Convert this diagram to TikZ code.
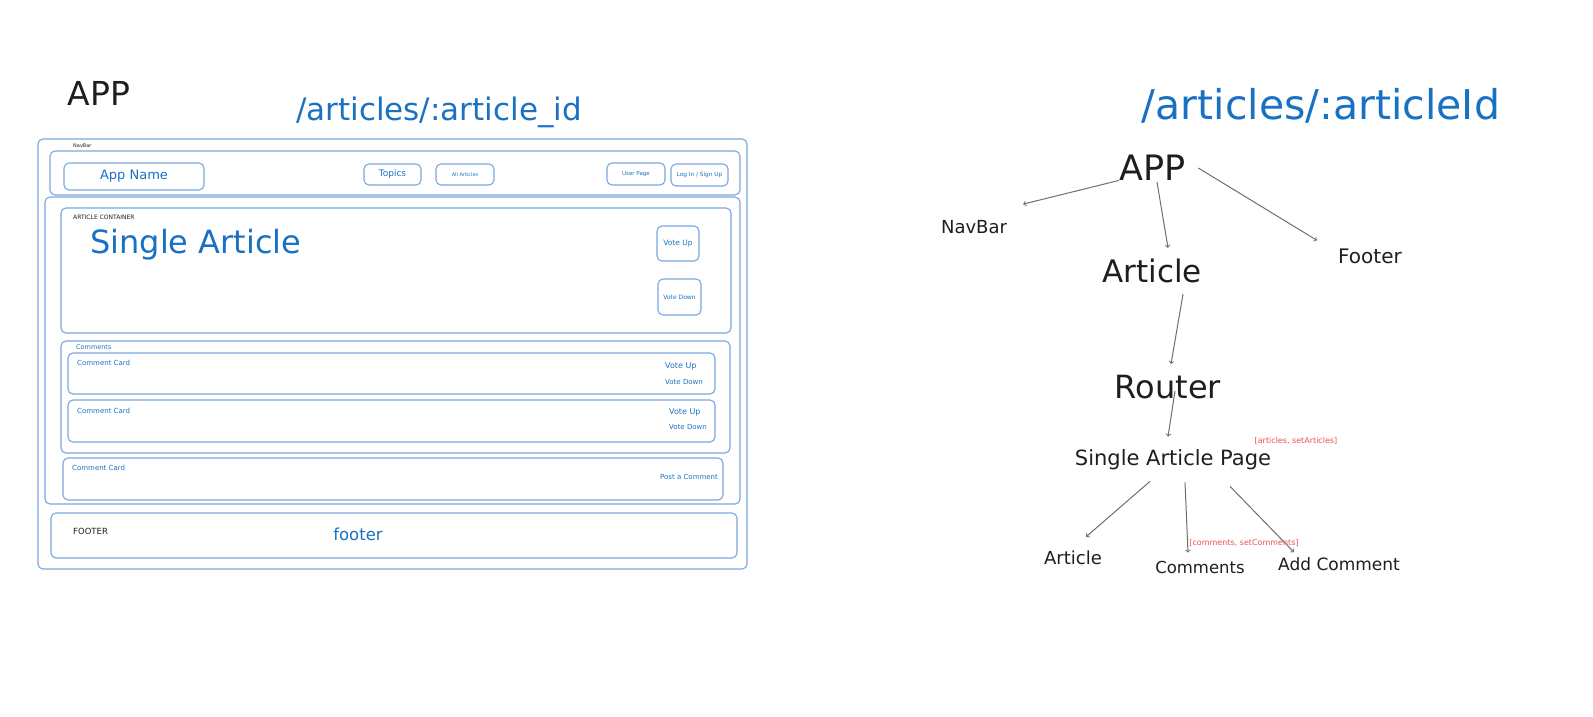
\documentclass[tikz,border=0pt]{standalone}
\usepackage{fontspec}
\setmainfont{DejaVu Sans}
\usetikzlibrary{positioning}
\definecolor{xblue}{RGB}{25,113,194}
\definecolor{wireblue}{RGB}{120,168,222}
\definecolor{xred}{RGB}{235,80,80}
\definecolor{xgray}{RGB}{110,110,110}
\definecolor{xink}{RGB}{30,30,30}
\newcommand{\fs}[1]{\fontsize{#1}{#1}\selectfont}
\tikzset{
  wire/.style={draw=wireblue, line width=1.1pt, rounded corners=5pt},
  btn/.style={wire, text=xblue, inner sep=0pt, font=\fs{6}},
  tag/.style={text=xblue, inner sep=0pt, anchor=west, font=\fs{7}},
  tree/.style={text=xink, inner sep=1pt},
  statelbl/.style={text=xred, inner sep=0pt, font=\fs{8}},
  arr/.style={->, draw=xgray, line width=1pt}
}

\begin{document}
\begin{tikzpicture}[x=1pt,y=-1pt]
    \useasboundingbox (0,0) rectangle (1593,716);

    % wireframe
    \node[tree, font=\fs{33}] (appl) at (99,93) {APP};
    \node[text=xblue, font=\fs{31}] (route) at (439,112) {/articles/:article\_id};
    \draw[wire] (38,139) rectangle (747,569);
    \node[tag, text=xink, font=\fs{5}] (navlbl) at (73,146) {NavBar};
    \draw[wire] (50,151) rectangle (740,195);
    \node[btn, minimum width=140pt, minimum height=27pt, font=\fs{13}] (appname) at (134,176.5) {App Name};
    \node[btn, minimum width=57pt, minimum height=21pt, font=\fs{9}] (topics) at (392.5,174.5) {Topics};
    \node[btn, minimum width=58pt, minimum height=21pt, font=\fs{5}] (allart) at (465,174.5) {All Articles};
    \node[btn, minimum width=58pt, minimum height=22pt, font=\fs{5.5}] (userpg) at (636,174) {User Page};
    \node[btn, minimum width=57pt, minimum height=22pt, font=\fs{5.8}] (login) at (699.5,175) {Log In / Sign Up};

    \draw[wire] (45,197) rectangle (740,504);
    \draw[wire] (61,208) rectangle (731,333);
    \node[tag, text=xink, font=\fs{6}] (artlbl) at (73,217) {ARTICLE CONTAINER};
    \node[tag, anchor=base west, font=\fs{32}] (single) at (90,253) {Single Article};
    \node[btn, minimum width=42pt, minimum height=35pt, font=\fs{7.5}] (vup) at (678,243.5) {Vote Up};
    \node[btn, minimum width=43pt, minimum height=36pt] (vdown) at (679.5,297) {Vote Down};

    \draw[wire] (61,341) rectangle (730,453);
    \node[tag, font=\fs{6.5}] (comlbl) at (76,347) {Comments};
    \draw[wire] (68,353) rectangle (715,394);
    \node[tag] (card1) at (77,363) {Comment Card};
    \node[tag, font=\fs{8}] (up1) at (665,366) {Vote Up};
    \node[tag] (down1) at (665,382) {Vote Down};
    \draw[wire] (68,400) rectangle (715,442);
    \node[tag] (card2) at (77,411) {Comment Card};
    \node[tag, font=\fs{8}] (up2) at (669,412) {Vote Up};
    \node[tag] (down2) at (669,427) {Vote Down};
    \draw[wire] (63,458) rectangle (723,500);
    \node[tag] (card3) at (72,468) {Comment Card};
    \node[tag, font=\fs{7}] (post) at (660,477) {Post a Comment};

    \draw[wire] (51,513) rectangle (737,558);
    \node[tag, text=xink, font=\fs{8.5}] (footlbl) at (73,531) {FOOTER};
    \node[text=xblue, font=\fs{16.5}] (footer1) at (358,534) {footer};

    % component tree
    \node[text=xblue, font=\fs{41}] (title) at (1321,106) {/articles/:articleId};
    \node[tree, font=\fs{35}] (app) at (1153,168) {APP};
    \node[tree, font=\fs{18}] (navbar) at (974,227) {NavBar};
    \node[tree, font=\fs{31}] (article) at (1152,271) {Article};
    \node[tree, font=\fs{20}] (footer) at (1370,256) {Footer};
    \node[tree, font=\fs{32}] (router) at (1168,387) {Router};
    \node[tree, font=\fs{21}] (sap) at (1173,460) {Single Article Page};
    \node[statelbl] (artstate) at (1296,441) {[articles, setArticles]};
    \node[tree, font=\fs{18}] (article2) at (1073,558) {Article};
    \node[tree, font=\fs{16.5}] (comments) at (1200,567) {Comments};
    \node[tree, font=\fs{17}] (addcom) at (1339,564) {Add Comment};
    \node[statelbl] (comstate) at (1244,543) {[comments, setComments]};

    \draw[arr] (app.200) -- ([shift={(15pt,15pt)}]navbar.north east);
    \draw[arr] ([xshift=4pt]app.south) -- ([xshift=16pt,yshift=10pt]article.north);
    \draw[arr] ([xshift=11pt]app.east) -- ([shift={(-20pt,7pt)}]footer.north west);
    \draw[arr] ([xshift=31pt,yshift=-10pt]article.south) -- ([xshift=3pt,yshift=10pt]router.north);
    \draw[arr] ([shift={(7pt,-4pt)}]router.center) -- ([xshift=-5pt,yshift=12pt]sap.north);
    \draw[arr] ([shift={(-23pt,-10pt)}]sap.south) -- ([shift={(13pt,13pt)}]article2.north);
    \draw[arr] ([shift={(12pt,-11pt)}]sap.south) -- ([shift={(-12pt,7pt)}]comments.north);
    \draw[arr] ([shift={(57pt,-15pt)}]sap.south) -- ([shift={(-45pt,4pt)}]addcom.north);
\end{tikzpicture}
\end{document}
